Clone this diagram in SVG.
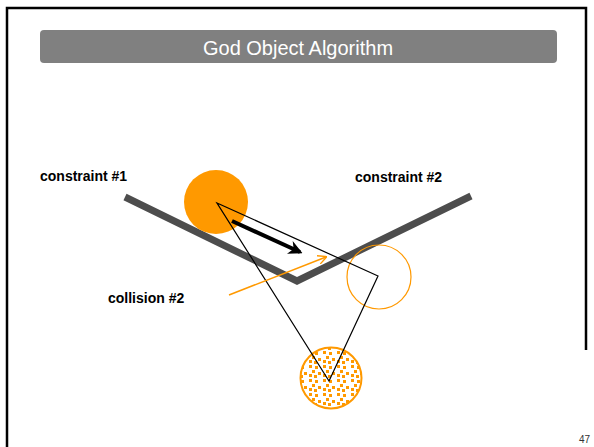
<svg xmlns="http://www.w3.org/2000/svg" width="594" height="447" viewBox="0 0 594 447">
<style>
.lbl{font-family:"Liberation Sans",Arial,sans-serif;font-weight:bold;font-size:14px;fill:#000}
.orange{stroke:#ff9900;fill:none}
</style>
<defs>
<pattern id="dots" width="14" height="14" patternUnits="userSpaceOnUse">
<rect x="1" y="1" width="3" height="3" fill="#ff9900"/>
<rect x="7" y="2" width="3" height="3" fill="#ff9900"/>
<rect x="4" y="6" width="3" height="3" fill="#ff9900"/>
<rect x="10" y="8" width="3" height="3" fill="#ff9900"/>
<rect x="1" y="10" width="3" height="3" fill="#ff9900"/>
<rect x="6" y="11" width="3" height="3" fill="#ff9900"/>
</pattern>
<marker id="ah" viewBox="0 0 10 10" refX="8" refY="5" markerWidth="3.5" markerHeight="3.5" orient="auto" markerUnits="strokeWidth">
<path d="M0,0 L10,5 L0,10 L3,5 Z" fill="#000"/>
</marker>
<marker id="ahO" viewBox="0 0 10 10" refX="9" refY="5" markerWidth="6" markerHeight="6" orient="auto" markerUnits="strokeWidth">
<path d="M0,0 L10,5 L0,10" fill="none" stroke="#ff9900" stroke-width="1.5"/>
</marker>
</defs>
<rect width="594" height="447" fill="#fff"/>
<path d="M7,447 V8 H586 V350" fill="none" stroke="#000" stroke-width="2.5"/>
<g id="title">
<rect x="40" y="30" width="517" height="33" rx="4" fill="#808080"/>
<text x="298" y="55" text-anchor="middle" font-family="Liberation Sans,Arial,sans-serif" font-size="20" fill="#fff">God Object Algorithm</text>
</g>
<g id="constraints">
<polyline points="125,197 297,281 471,196" fill="none" stroke="#4d4d4d" stroke-width="7"/>
</g>
<g id="god-object">
<circle cx="216" cy="202" r="32" fill="#ff9900"/>
</g>
<g id="proxy-circle">
<circle cx="379" cy="277" r="32" class="orange" stroke-width="1.2"/>
</g>
<g id="haptic-point">
<circle cx="331" cy="378" r="30.5" fill="url(#dots)" stroke="#ff9900" stroke-width="2"/>
</g>
<g id="connectors">
<polygon points="217,203 378,276 329,381" fill="none" stroke="#000" stroke-width="1.2"/>
<line x1="232" y1="221" x2="300" y2="252" stroke="#000" stroke-width="4" marker-end="url(#ah)"/>
<line x1="229" y1="295" x2="326" y2="257" stroke="#ff9900" stroke-width="1.5" marker-end="url(#ahO)"/>
</g>
<g id="labels">
<text class="lbl" x="40" y="181">constraint #1</text>
<text class="lbl" x="355" y="182">constraint #2</text>
<text class="lbl" x="108" y="303">collision #2</text>
<text x="579" y="443" font-family="Liberation Sans,Arial,sans-serif" font-size="10" fill="#333">47</text>
</g>
</svg>
